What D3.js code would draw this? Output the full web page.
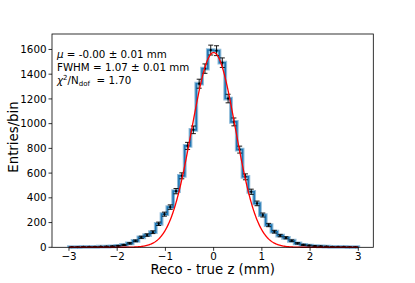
<!DOCTYPE html>
<html><head><meta charset="utf-8">
<script src="https://cdn.jsdelivr.net/npm/d3@7"></script>
<style>body{margin:0;background:#fff} text{font-family:"DejaVu Sans",sans-serif;fill:#000}</style>
</head><body><svg id="c" width="415" height="283"></svg>
<script>
// ---- data ----
const binCenters = [-2.94,-2.82,-2.70,-2.58,-2.46,-2.34,-2.22,-2.10,-1.98,-1.86,-1.74,-1.62,-1.50,-1.38,-1.26,-1.14,-1.02,-0.90,-0.78,-0.66,-0.54,-0.42,-0.30,-0.18,-0.06,
                    0.06,0.18,0.30,0.42,0.54,0.66,0.78,0.90,1.02,1.14,1.26,1.38,1.50,1.62,1.74,1.86,1.98,2.10,2.22,2.34,2.46,2.58,2.70,2.82,2.94];
const counts = [2,2,3,3,4,5,6,8,12,19,32,52,81,99,122,190,268,325,454,578,820,950,1323,1445,1595,
                1590,1493,1203,1014,790,570,449,355,261,180,126,95,77,53,32,20,14,10,8,6,4,3,3,2,2];
const binWidth = 0.12;
const xTicks = [-3,-2,-1,0,1,2,3];
const xTickLabels = ["\u22123","\u22122","\u22121","0","1","2","3"];
const yTicks = [0,200,400,600,800,1000,1200,1400,1600];
const fitMu = 0.0;
const fitFWHM = 1.07;
const fitAmp = 1575;
const fitRange = [-3, 3];
const xLabel = "Reco - true z (mm)";
const yLabel = "Entries/bin";

// ---- layout ----
const L = 52, R = 373.3, T = 34, B = 247.3;
const svg = d3.select("#c");
const x = d3.scaleLinear().domain([-3.352, 3.311]).range([L, R]);
const y = d3.scaleLinear().domain([0, 1725]).range([B, T]);

// histogram step
const pts = [[binCenters[0]-binWidth/2, 0]];
binCenters.forEach((c,i)=>{ pts.push([c-binWidth/2, counts[i]]); pts.push([c+binWidth/2, counts[i]]); });
pts.push([binCenters[binCenters.length-1]+binWidth/2, 0]);
const line = d3.line().x(d=>x(d[0])).y(d=>y(d[1]));
svg.append("path").attr("d", line(pts)).attr("fill","none").attr("stroke","#1f77b4").attr("stroke-opacity",0.5).attr("stroke-width",3.8);
svg.append("path").attr("d", line(pts)).attr("fill","none").attr("stroke","#1f77b4").attr("stroke-width",1.6);

// error bars
const eg = svg.append("g").attr("stroke","#000").attr("stroke-width",0.9);
binCenters.forEach((c,i)=>{
  const e = Math.sqrt(counts[i]);
  const cx = x(c);
  eg.append("line").attr("x1",cx).attr("x2",cx).attr("y1",y(counts[i]-e)).attr("y2",y(counts[i]+e));
  eg.append("line").attr("x1",cx-2.5).attr("x2",cx+2.5).attr("y1",y(counts[i]-e)).attr("y2",y(counts[i]-e));
  eg.append("line").attr("x1",cx-2.5).attr("x2",cx+2.5).attr("y1",y(counts[i]+e)).attr("y2",y(counts[i]+e));
  svg.append("circle").attr("cx",cx).attr("cy",y(counts[i])).attr("r",1.1).attr("fill","#000");
});

// fit curve
const sigma = fitFWHM/(2*Math.sqrt(2*Math.log(2)));
const fx = d3.range(fitRange[0], fitRange[1]+1e-9, 0.01);
svg.append("path").attr("d", d3.line().x(d=>x(d)).y(d=>y(fitAmp*Math.exp(-((d-fitMu)**2)/(2*sigma*sigma))))(fx))
  .attr("fill","none").attr("stroke","#ff0000").attr("stroke-width",1.3);

// frame
svg.append("rect").attr("x",L).attr("y",T).attr("width",R-L).attr("height",B-T).attr("fill","none").attr("stroke","#000").attr("stroke-width",0.8);

// axes ticks
const xa = svg.append("g");
xTicks.forEach((t,i)=>{
  xa.append("line").attr("x1",x(t)).attr("x2",x(t)).attr("y1",B).attr("y2",B+3.5).attr("stroke","#000").attr("stroke-width",0.8);
  xa.append("text").attr("x",x(t)).attr("y",B+13).attr("text-anchor","middle").attr("font-size",10.3).text(xTickLabels[i]);
});
const ya = svg.append("g");
yTicks.forEach(t=>{
  ya.append("line").attr("x1",L-3.5).attr("x2",L).attr("y1",y(t)).attr("y2",y(t)).attr("stroke","#000").attr("stroke-width",0.8);
  ya.append("text").attr("x",L-5.5).attr("y",y(t)).attr("dy","0.35em").attr("text-anchor","end").attr("font-size",10.3).text(t);
});
svg.append("text").attr("x",(L+R)/2).attr("y",274).attr("text-anchor","middle").attr("font-size",13.3).text(xLabel);
svg.append("text").attr("transform",`translate(18,137) rotate(-90)`).attr("text-anchor","middle").attr("font-size",13.3).text(yLabel);

// stats text
const st = svg.append("g").attr("font-size",10.3);
const t1 = st.append("text").attr("x",57).attr("y",58);
t1.append("tspan").attr("font-style","italic").text("\u03bc");
t1.append("tspan").text(" = -0.00 \u00b1 0.01 mm");
st.append("text").attr("x",57).attr("y",71).text("FWHM = 1.07 \u00b1 0.01 mm");
const t3 = st.append("text").attr("x",57).attr("y",84);
t3.append("tspan").attr("font-style","italic").text("\u03c7");
t3.append("tspan").attr("font-size",7).attr("dy",-4).text("2");
t3.append("tspan").attr("dy",4).text("/N");
t3.append("tspan").attr("font-size",7).attr("dy",2).text("dof");
t3.append("tspan").attr("dy",-2).text("\u00a0 = 1.70");
</script></body></html>
